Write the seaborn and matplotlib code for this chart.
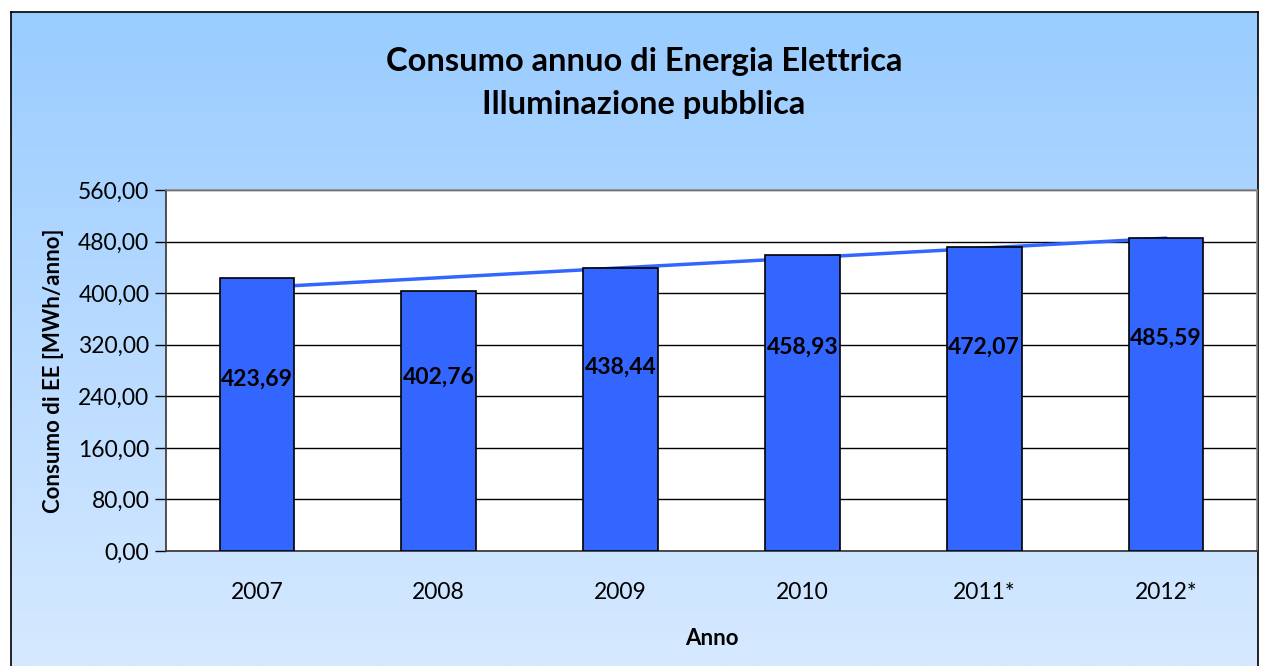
"""Consumo annuo di energia elettrica - illuminazione pubblica."""

import matplotlib

matplotlib.use("Agg")
import matplotlib.pyplot as plt
import numpy as np
import seaborn as sns

# data
years = ["2007", "2008", "2009", "2010", "2011*", "2012*"]
consumo = [423.69, 402.76, 438.44, 458.93, 472.07, 485.59]
y_ticks = [0, 80, 160, 240, 320, 400, 480, 560]

# label heights (as fraction of bar), layout only
label_frac = [0.63, 0.67, 0.65, 0.69, 0.67, 0.68]

W, H = 1261, 666
BAR_BLUE = "#3366FF"

sns.set_theme(style="white")
plt.rcParams["font.family"] = ["Lato", "DejaVu Sans"]
plt.rcParams.update(
    {
        "text.color": "black",
        "axes.labelcolor": "black",
        "xtick.color": "black",
        "ytick.color": "black",
    }
)

fig = plt.figure(figsize=(W / 100, H / 100), dpi=100)
fig.patch.set_facecolor("white")

# chart background with vertical gradient and black frame
bg = fig.add_axes([11 / W, 0, (1258 - 11) / W, (H - 12) / H])
grad = np.linspace(0, 1, 256).reshape(-1, 1)
cmap = matplotlib.colors.LinearSegmentedColormap.from_list(
    "bg", ["#99CCFF", "#D6E9FF"]
)
bg.imshow(grad, aspect="auto", cmap=cmap, extent=[0, 1, 0, 1], origin="upper")
bg.set_xticks([])
bg.set_yticks([])
for side in ["top", "left", "right"]:
    bg.spines[side].set_color("black")
    bg.spines[side].set_linewidth(1.2)
bg.spines["bottom"].set_visible(False)

# plot area
ax = fig.add_axes([166 / W, (H - 551) / H, (1257 - 166) / W, (551 - 190) / H])
ax.set_facecolor("white")

sns.barplot(
    x=years,
    y=consumo,
    color=BAR_BLUE,
    saturation=1,
    edgecolor="black",
    linewidth=1.2,
    width=0.41,
    ax=ax,
    zorder=3,
)

# linear trend line, behind the bars
xs = np.arange(len(consumo))
k, b = np.polyfit(xs, consumo, 1)
ax.plot(xs, k * xs + b, color=BAR_BLUE, lw=2.5, zorder=2)

for i, (v, f) in enumerate(zip(consumo, label_frac)):
    ax.text(
        i,
        v * f,
        f"{v:.2f}".replace(".", ","),
        ha="center",
        va="center",
        fontsize=16.5,
        fontweight="bold",
        color="black",
        zorder=4,
    )

ax.set_ylim(0, 560)
ax.set_xlim(-0.5, len(years) - 0.5)
ax.set_yticks(y_ticks)
ax.set_yticklabels([f"{t:.2f}".replace(".", ",") for t in y_ticks], fontsize=16.5)
ax.yaxis.grid(True, color="black", lw=1)
ax.set_axisbelow(True)

ax.set_xticks(xs)
ax.set_xticklabels(years, fontsize=16.5)
ax.set_xticks(np.arange(-0.5, len(years)), minor=True)
ax.tick_params(axis="x", which="major", length=0, pad=22)
ax.tick_params(axis="x", which="minor", length=7, color="black", width=1)
ax.tick_params(axis="y", length=8, color="black", width=1, left=True, pad=4)

for side in ["left", "bottom"]:
    ax.spines[side].set_color("#333333")
    ax.spines[side].set_linewidth(1.2)
for side in ["top", "right"]:
    ax.spines[side].set_color("#888888")
    ax.spines[side].set_linewidth(1.2)

ax.set_xlabel("Anno", fontsize=16, fontweight="bold", labelpad=18)
ax.set_ylabel("Consumo di EE [MWh/anno]", fontsize=16, fontweight="bold", labelpad=10)

fig.text(
    644 / W,
    1 - 83 / H,
    "Consumo annuo di Energia Elettrica\nIlluminazione pubblica",
    ha="center",
    va="center",
    fontsize=23.5,
    fontweight="bold",
    linespacing=1.55,
)

fig.savefig("out.png", dpi=100)
plt.close(fig)
